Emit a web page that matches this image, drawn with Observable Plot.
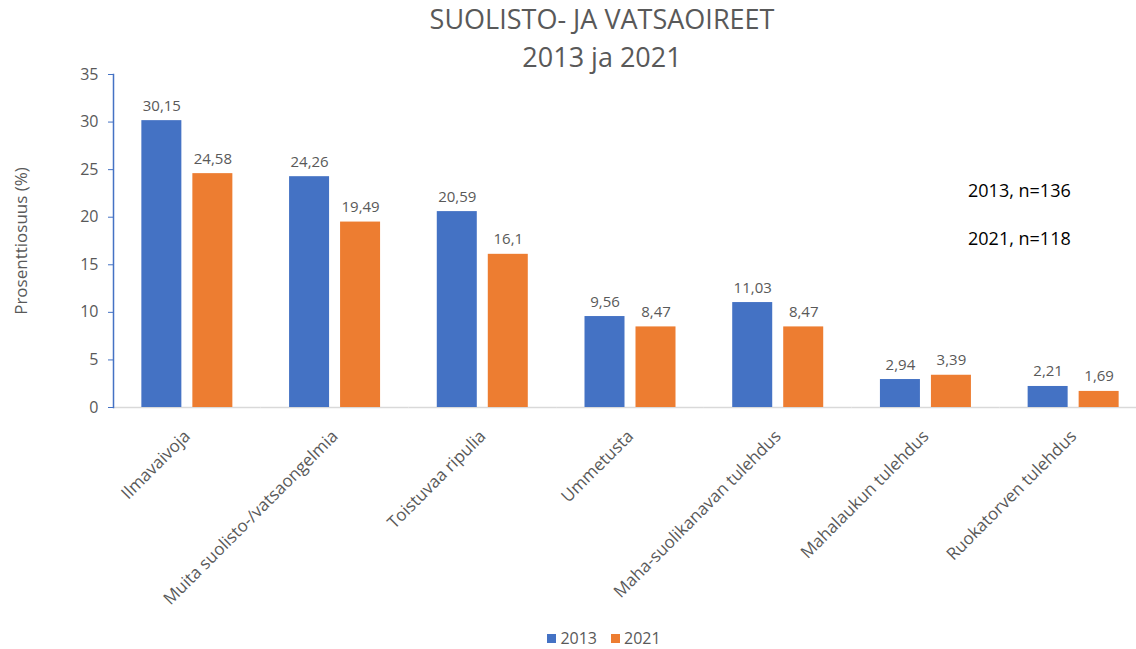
<!DOCTYPE html>
<html>
<head>
<meta charset="utf-8">
<script src="https://cdn.jsdelivr.net/npm/d3@7"></script>
<script src="https://cdn.jsdelivr.net/npm/@observablehq/plot@0.6"></script>
<style>
  html, body { margin: 0; padding: 0; background: #fff; }
  #wrap { position: relative; width: 1136px; height: 649px; overflow: hidden; font-family: "Open Sans", sans-serif; }
  #title { position: absolute; left: 0; width: 1204px; top: 0px; text-align: center; color: #595959; font-size: 27px; line-height: 38px; }
  #ylabel { position: absolute; left: 20px; top: 241px; transform: translate(-50%, -50%) rotate(-90deg); color: #595959; font-size: 17px; white-space: nowrap; }
  .note { position: absolute; left: 968px; color: #000; font-size: 18px; white-space: nowrap; transform: translateY(-50%); }
  #legend { position: absolute; left: 0; width: 1208px; top: 627px; display: flex; justify-content: center; gap: 14px; color: #595959; font-size: 16px; }
  #legend span.sw { display: inline-block; width: 9px; height: 9px; margin-right: 4px; }
  #chart { position: absolute; left: 0; top: 0; width: 1147px; }
</style>
</head>
<body>
<div id="wrap">
  <div id="chart"></div>
  <div id="title">SUOLISTO- JA VATSAOIREET<br>2013 ja 2021</div>
  <div id="ylabel">Prosenttiosuus (%)</div>
  <div class="note" style="top:190px">2013, n=136</div>
  <div class="note" style="top:238px">2021, n=118</div>
  <div id="legend"></div>
</div>
<script>
const categories = ["Ilmavaivoja", "Muita suolisto-/vatsaongelmia", "Toistuvaa ripulia", "Ummetusta", "Maha-suolikanavan tulehdus", "Mahalaukun tulehdus", "Ruokatorven tulehdus"];
const years = ["2013", "2021"];
const values2013 = [30.15, 24.26, 20.59, 9.56, 11.03, 2.94, 2.21];
const values2021 = [24.58, 19.49, 16.1, 8.47, 8.47, 3.39, 1.69];
const yTicks = [0, 5, 10, 15, 20, 25, 30, 35];
const colors = ["#4472C4", "#ED7D31"];

const data = [];
categories.forEach((c, i) => {
  data.push({category: c, year: years[0], value: values2013[i]});
  data.push({category: c, year: years[1], value: values2021[i]});
});
const fmt = v => String(v).replace(".", ",");

const plot = Plot.plot({
  width: 1147,
  height: 620,
  marginLeft: 113,
  marginRight: 0,
  marginTop: 74,
  marginBottom: 213,
  style: {fontFamily: "'Open Sans', sans-serif", background: "transparent", maxWidth: "none"},
  fx: {domain: categories, padding: 0, round: false, label: null},
  x: {domain: years, paddingInner: 0.2157, paddingOuter: 0.556, round: false, axis: null},
  y: {domain: [0, 35], ticks: yTicks, label: null},
  color: {domain: years, range: colors},
  marks: [
    Plot.ruleY([0], {stroke: "#d9d9d9", strokeWidth: 1.5}),
    Plot.barY(data, {fx: "category", x: "year", y: "value", fill: "year"}),
    Plot.text(data, {fx: "category", x: "year", y: "value", text: d => fmt(d.value), lineAnchor: "bottom", dy: -10, fill: "#595959", fontSize: 15}),
    Plot.frame({anchor: "left", facetAnchor: "left", stroke: "#4472C4", strokeWidth: 1.5}),
    Plot.axisY({ticks: yTicks, tickSize: 5, tickPadding: 10, stroke: "#4472C4", fill: "#595959", fontSize: 16, label: null}),
    Plot.axisFx({anchor: "bottom", tickRotate: -45, tickSize: 0, tickPadding: 26, fill: "#595959", fontSize: 17, label: null})
  ]
});
document.getElementById("chart").appendChild(plot);

const legend = document.getElementById("legend");
years.forEach((y, i) => {
  const item = document.createElement("div");
  item.style.display = "flex";
  item.style.alignItems = "center";
  item.innerHTML = `<span class="sw" style="background:${colors[i]}"></span>${y}`;
  legend.appendChild(item);
});
</script>
</body>
</html>
